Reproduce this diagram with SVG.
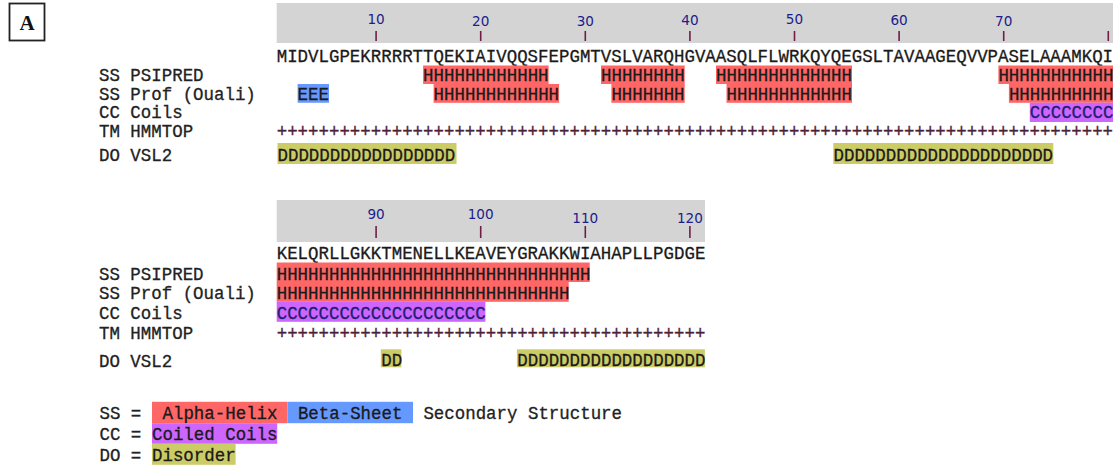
<svg xmlns="http://www.w3.org/2000/svg" width="1113" height="467" viewBox="0 0 1113 467">
  <style>
    .mono { font-family: "Courier New", "Liberation Mono", monospace; font-size: 17.43px; fill: #1a1a1a; stroke: #1a1a1a; stroke-width: 0.3; white-space: pre; }
    .lbl { font-family: "Courier New", "Liberation Mono", monospace; font-size: 17.43px; fill: #222; stroke: #222; stroke-width: 0.3; white-space: pre; }
    .plus { fill: #4a2038; stroke: #4a2038; }
    .ctext { fill: #22206e; stroke: #22206e; }
    .ruler { fill: #d4d4d4; }
    .num { font-family: "DejaVu Sans", Verdana, sans-serif; font-size: 13.6px; fill: #1c1c8c; text-anchor: middle; }
    .tick { stroke: #6e1e46; stroke-width: 1.6; }
    .helix { fill: #ff6666; }
    .sheet { fill: #6699ff; }
    .coil { fill: #cc66ff; }
    .dis { fill: #cccc66; }
  </style>

  <!-- panel letter -->
  <g id="panel-label">
    <rect x="9.5" y="3.5" width="35" height="37" fill="#fff" stroke="#222" stroke-width="1.8"/>
    <text x="27" y="29.5" text-anchor="middle" font-family="Liberation Serif, Times New Roman, serif" font-weight="bold" font-size="21" fill="#111">A</text>
  </g>

  <!-- residues 1-80 -->
  <g id="block1">
    <g id="ruler1">
      <rect class="ruler" x="276.7" y="3" width="836.3" height="40"/>
      <g class="num">
        <text x="376.1" y="23.5">10</text>
        <text x="480.7" y="25.5">20</text>
        <text x="585.3" y="26">30</text>
        <text x="689.9" y="25">40</text>
        <text x="794.5" y="23.5">50</text>
        <text x="899.1" y="25">60</text>
        <text x="1003.7" y="26">70</text>
      </g>
      <g class="tick">
        <line x1="376.1" y1="31" x2="376.1" y2="41"/>
        <line x1="480.7" y1="31" x2="480.7" y2="41"/>
        <line x1="585.3" y1="31" x2="585.3" y2="41"/>
        <line x1="689.9" y1="31" x2="689.9" y2="41"/>
        <line x1="794.5" y1="31" x2="794.5" y2="41"/>
        <line x1="899.1" y1="31" x2="899.1" y2="41"/>
        <line x1="1003.7" y1="31" x2="1003.7" y2="41"/>
        <line x1="1108.3" y1="31" x2="1108.3" y2="41"/>
      </g>
    </g>

    <text class="mono" x="276.7" y="61.5">MIDVLGPEKRRRRTTQEKIAIVQQSFEPGMTVSLVARQHGVAASQLFLWRKQYQEGSLTAVAAGEQVVPASELAAAMKQI</text>

    <g id="labels1" class="lbl">
      <text x="99" y="81">SS PSIPRED</text>
      <text x="99" y="99.5">SS Prof (Ouali)</text>
      <text x="99" y="117.5">CC Coils</text>
      <text x="99" y="137">TM HMMTOP</text>
      <text x="99" y="161">DO VSL2</text>
    </g>

    <!-- PSIPRED helices -->
    <g id="psipred1">
      <rect class="helix" x="423.1" y="65.5" width="125.5" height="18.5"/>
      <rect class="helix" x="601" y="65.5" width="83.7" height="18.5"/>
      <rect class="helix" x="716" y="65.5" width="136" height="18.5"/>
      <rect class="helix" x="998.4" y="65.5" width="114.6" height="18.5"/>
      <text class="mono" x="423.1" y="81">HHHHHHHHHHHH</text>
      <text class="mono" x="601" y="81">HHHHHHHH</text>
      <text class="mono" x="716" y="81">HHHHHHHHHHHHH</text>
      <text class="mono" x="998.4" y="81">HHHHHHHHHHH</text>
    </g>

    <!-- Prof secondary structure -->
    <g id="prof1">
      <rect class="sheet" x="297.6" y="84" width="31.4" height="18.8"/>
      <rect class="helix" x="433.6" y="84" width="125.5" height="18.8"/>
      <rect class="helix" x="611.4" y="84" width="73.3" height="18.8"/>
      <rect class="helix" x="726.5" y="84" width="125.5" height="18.8"/>
      <rect class="helix" x="1008.9" y="84" width="104.1" height="18.8"/>
      <text class="mono" x="297.6" y="100">EEE</text>
      <text class="mono" x="433.6" y="100">HHHHHHHHHHHH</text>
      <text class="mono" x="611.4" y="100">HHHHHHH</text>
      <text class="mono" x="726.5" y="100">HHHHHHHHHHHH</text>
      <text class="mono" x="1008.9" y="100">HHHHHHHHHH</text>
    </g>

    <!-- coiled coil -->
    <g id="coils1">
      <rect class="coil" x="1029.8" y="102.8" width="83.2" height="19.2"/>
      <text class="mono ctext" x="1029.8" y="118">CCCCCCCC</text>
    </g>

    <!-- transmembrane -->
    <text id="hmmtop1" class="mono plus" x="276.7" y="137">++++++++++++++++++++++++++++++++++++++++++++++++++++++++++++++++++++++++++++++++</text>

    <!-- disorder -->
    <g id="vsl2-1">
      <rect class="dis" x="277.5" y="143" width="179" height="21"/>
      <rect class="dis" x="833.3" y="143" width="220" height="21"/>
      <text class="mono" x="277.5" y="160.5">DDDDDDDDDDDDDDDDD</text>
      <text class="mono" x="833.5" y="160.5">DDDDDDDDDDDDDDDDDDDDD</text>
    </g>
  </g>

  <!-- residues 81-121 -->
  <g id="block2">
    <g id="ruler2">
      <rect class="ruler" x="276.7" y="200" width="428.3" height="42"/>
      <g class="num">
        <text x="376.1" y="219">90</text>
        <text x="480.7" y="219">100</text>
        <text x="585.3" y="223">110</text>
        <text x="689.9" y="223">120</text>
      </g>
      <g class="tick">
        <line x1="376.1" y1="226" x2="376.1" y2="238"/>
        <line x1="480.7" y1="226" x2="480.7" y2="238"/>
        <line x1="585.3" y1="226" x2="585.3" y2="238"/>
        <line x1="689.9" y1="226" x2="689.9" y2="238"/>
      </g>
    </g>

    <text class="mono" x="276.7" y="258.5">KELQRLLGKKTMENELLKEAVEYGRAKKWIAHAPLLPGDGE</text>

    <g id="labels2" class="lbl">
      <text x="99" y="280">SS PSIPRED</text>
      <text x="99" y="298.5">SS Prof (Ouali)</text>
      <text x="99" y="318.5">CC Coils</text>
      <text x="99" y="338.5">TM HMMTOP</text>
      <text x="99" y="366.5">DO VSL2</text>
    </g>

    <g id="psipred2">
      <rect class="helix" x="276.7" y="262.5" width="313" height="19.5"/>
      <text class="mono" x="276.7" y="279.5">HHHHHHHHHHHHHHHHHHHHHHHHHHHHHH</text>
    </g>

    <g id="prof2">
      <rect class="helix" x="276.7" y="282" width="292" height="19.8"/>
      <text class="mono" x="276.7" y="298.5">HHHHHHHHHHHHHHHHHHHHHHHHHHHH</text>
    </g>

    <g id="coils2">
      <rect class="coil" x="276.7" y="301.8" width="208.7" height="20"/>
      <text class="mono ctext" x="276.7" y="318.5">CCCCCCCCCCCCCCCCCCCC</text>
    </g>

    <text id="hmmtop2" class="mono plus" x="276.7" y="338.5">+++++++++++++++++++++++++++++++++++++++++</text>

    <g id="vsl2-2">
      <rect class="dis" x="380.8" y="349.3" width="20.6" height="18"/>
      <rect class="dis" x="516.9" y="349.3" width="188" height="18"/>
      <text class="mono" x="381.3" y="365.5">DD</text>
      <text class="mono" x="517.3" y="365.5">DDDDDDDDDDDDDDDDDD</text>
    </g>
  </g>

  <!-- key -->
  <g id="legend">
    <text class="lbl" x="99.5" y="418.5">SS =</text>
    <rect class="helix" x="152" y="401.8" width="135.5" height="21.4"/>
    <rect class="sheet" x="287.5" y="401.8" width="125.5" height="21.4"/>
    <text class="mono" x="162.5" y="418.5">Alpha-Helix</text>
    <text class="mono" x="297.9" y="418.5">Beta-Sheet</text>
    <text class="lbl" x="423.4" y="418.5">Secondary Structure</text>

    <text class="lbl" x="99.5" y="439.5">CC =</text>
    <rect class="coil" x="152" y="423.2" width="125.2" height="20.6"/>
    <text class="mono" x="152" y="439.5">Coiled Coils</text>

    <text class="lbl" x="99.5" y="460.5">DO =</text>
    <rect class="dis" x="152" y="443.8" width="83.6" height="21"/>
    <text class="mono" x="152" y="460.5">Disorder</text>
  </g>
</svg>
